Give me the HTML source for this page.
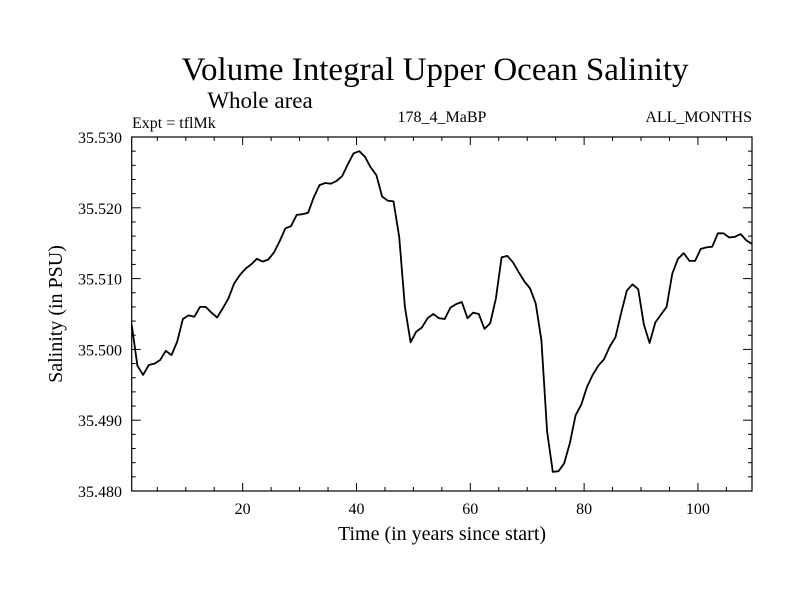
<!DOCTYPE html>
<html><head><meta charset="utf-8"><style>
body{margin:0;background:#fff;}
svg text{font-family:"Liberation Serif",serif;fill:#000;}
</style></head><body>
<svg id="chart" width="800" height="600">
<text x="435" y="80" font-size="33" text-anchor="middle">Volume Integral Upper Ocean Salinity</text>
<text x="260" y="108" font-size="23" text-anchor="middle">Whole area</text>
<text x="132" y="128" font-size="16">Expt = tflMk</text>
<text x="442" y="122" font-size="16" text-anchor="middle">178_4_MaBP</text>
<text x="752" y="122" font-size="16" text-anchor="end">ALL_MONTHS</text>
<text x="442" y="540" font-size="20" text-anchor="middle">Time (in years since start)</text>
<text transform="translate(62,314) rotate(-90)" font-size="20" text-anchor="middle">Salinity (in PSU)</text>
<g id="axes"></g>
<path id="line" fill="none" stroke="#000" stroke-width="1.8" stroke-linejoin="round"></path>
<rect x="131.7" y="137" width="620.3" height="354" fill="none" stroke="#000" stroke-width="1.2"></rect>
</svg>
<script>
const values = [35.5035,35.4977,35.4964,35.4978,35.4980,35.4985,35.4998,35.4992,35.5011,35.5043,
35.5048,35.5046,35.5060,35.5060,35.5052,35.5045,35.5058,35.5072,35.5093,35.5105,
35.5114,35.5120,35.5128,35.5124,35.5127,35.5137,35.5153,35.5171,35.5174,35.5190,
35.5191,35.5193,35.5215,35.5232,35.5235,35.5234,35.5238,35.5245,35.5262,35.5277,
35.5280,35.5272,35.5257,35.5246,35.5216,35.5210,35.5209,35.5159,35.5060,35.5010,
35.5025,35.5031,35.5044,35.5050,35.5044,35.5043,35.5059,35.5064,35.5067,35.5044,
35.5052,35.5050,35.5029,35.5037,35.5072,35.5130,35.5132,35.5123,35.5109,35.5096,
35.5086,35.5065,35.5013,35.4884,35.4827,35.4828,35.4839,35.4868,35.4907,35.4922,
35.4947,35.4964,35.4977,35.4986,35.5004,35.5017,35.5051,35.5083,35.5092,35.5085,
35.5035,35.5009,35.5038,35.5049,35.5060,35.5107,35.5128,35.5136,35.5125,35.5125,
35.5142,35.5144,35.5145,35.5164,35.5164,35.5158,35.5159,35.5163,35.5154,35.5149];
const years = values.map((v,i)=>i+0.5);
const xTicks = [20,40,60,80,100];
const yTicks = [35.480,35.490,35.500,35.510,35.520,35.530];
const L=131.7,R=752,T=137,B=491,X0=0.5,X1=109.5,Y0=35.480,Y1=35.530;
const sx=x=>L+(x-X0)/(X1-X0)*(R-L);
const sy=y=>B-(y-Y0)/(Y1-Y0)*(B-T);
const NS="http://www.w3.org/2000/svg";
const g=document.getElementById('axes');
function line(x1,y1,x2,y2){const l=document.createElementNS(NS,'line');
l.setAttribute('x1',x1);l.setAttribute('y1',y1);l.setAttribute('x2',x2);l.setAttribute('y2',y2);
l.setAttribute('stroke','#000');l.setAttribute('stroke-width','1');


g.appendChild(l);}
function text(x,y,s,anchor){const t=document.createElementNS(NS,'text');
t.setAttribute('x',x);t.setAttribute('y',y);t.setAttribute('font-size','16');t.setAttribute('text-anchor',anchor);t.textContent=s;


g.appendChild(t);}
for(let x=5;x<=X1;x+=5){const px=sx(x);const major=x%20===0;const len=major?8:4;
line(px,B,px,B-len);line(px,T,px,T+len);}
xTicks.forEach(x=>text(sx(x),514,String(x),'middle'));
for(let k=0;k<=25;k++){const y=Y0+k*0.002;const py=sy(y);const major=k%5===0;const len=major?9:4;
line(L,py,L+len,py);line(R,py,R-len,py);}
yTicks.forEach(y=>text(122,sy(y)+6,y.toFixed(3),'end'));
document.getElementById('line').setAttribute('d',values.map((v,i)=>(i?'L':'M')+sx(years[i]).toFixed(1)+','+sy(v).toFixed(1)).join(''));
</script>
</body></html>
